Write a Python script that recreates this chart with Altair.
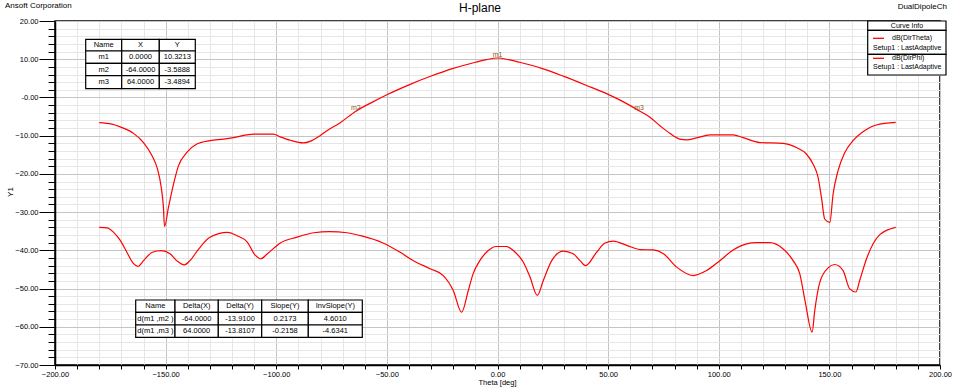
import altair as alt
import pandas as pd

# ---------------- data ----------------
theta1 = [-180, -174.3, -170.5, -164.5, -160, -156.2, -153.7, -152, -151, -150.5,
          -148.7, -146.4, -144.2, -140.4, -135.9, -129.9, -123.8, -119.3, -113.3, -110.3,
          -101.3, -98.2, -93.7, -87.7, -84.7, -80.2, -77.1, -71.1, -64, -56.1,
          -50, -40, -30, -20, -10, -5, 0, 5, 10, 20,
          30, 40, 50, 56.1, 64, 68.9, 73.4, 77.9, 82.4, 85.5,
          90, 96, 106.5, 111, 118.6, 129.1, 135.1, 139.6, 142.6, 144.9,
          146.4, 147.9, 150.2, 151.7, 153.9, 157, 160.7, 165.2, 171.2, 180]
dir_theta = [-6.6, -7.0, -7.7, -9.4, -11.8, -15.2, -18.7, -23.5, -28.7, -33.8,
             -28.7, -22.6, -17.9, -14.4, -12.2, -11.3, -10.9, -10.5, -9.8, -9.6,
             -9.6, -10.3, -11.2, -11.9, -11.5, -10.0, -8.7, -6.6, -3.59, -1.1,
             0.7, 3.3, 5.6, 7.6, 9.2, 9.9, 10.32, 9.9, 9.2, 7.6,
             5.5, 3.2, 0.8, -0.9, -3.49, -5.2, -7.4, -9.4, -10.9, -11.1,
             -10.6, -9.8, -9.8, -10.5, -11.8, -12.0, -13.1, -14.8, -17.4, -20.9,
             -26.1, -31.8, -32.7, -25.2, -19.2, -14.4, -11.3, -9.0, -7.2, -6.5]

theta2 = [-180, -176.5, -173.5, -170.5, -167.5, -164.5, -162.5, -160, -156, -152,
          -148, -145, -141.5, -139, -135, -130, -122, -118, -113, -110,
          -107, -104, -98, -91, -83, -76, -68, -61, -52, -44,
          -38, -30.5, -24.5, -20, -16.2, -13.2, -11, -8, -5, -0.5,
          4, 8, 11.7, 14.7, 18, 20.7, 24.5, 29.7, 34.2, 37.3,
          39.8, 44.8, 48.6, 52.3, 58.4, 64.4, 70.4, 75, 81, 88.4,
          94.5, 100.5, 106.5, 112.6, 117, 123, 129, 133.6, 136.6, 139,
          142.2, 143.4, 145.7, 149.4, 152.4, 156.2, 159.2, 162, 163.7, 166.8,
          172.8, 180]
dir_phi = [-34.0, -34.1, -35.3, -37.4, -40.5, -43.5, -44.2, -42.7, -40.5, -40.1,
           -40.9, -42.7, -43.8, -42.7, -39.6, -36.6, -35.3, -36.1, -37.9, -40.9,
           -42.2, -40.9, -38.0, -36.6, -35.4, -35.1, -35.4, -36.3, -38.0, -40.5,
           -42.7, -44.8, -46.6, -50.5, -56.2, -50.5, -46.1, -42.7, -40.5, -39.0,
           -39.0, -40.5, -43.1, -47.0, -51.8, -47.9, -42.7, -40.2, -40.9, -42.7,
           -44.0, -40.5, -38.1, -37.6, -38.7, -39.8, -39.9, -40.9, -44.4, -46.6,
           -45.3, -42.7, -39.9, -38.3, -38.0, -38.0, -39.6, -42.7, -46.1, -53.2,
           -61.4, -55.7, -48.3, -44.6, -43.7, -45.3, -50.1, -50.9, -47.9, -42.2,
           -35.9, -34.0]
assert len(theta1) == len(dir_theta) and len(theta2) == len(dir_phi)

curve_names = ["dB(DirTheta)", "dB(DirPhi)"]
setup_label = "Setup1 : LastAdaptive"

marker_names = ["m1", "m2", "m3"]
marker_x = [0.0, -64.0, 64.0]
marker_y = [10.3213, -3.5888, -3.4894]

marker_headers = ["Name", "X", "Y"]
marker_x_text = ["0.0000", "-64.0000", "64.0000"]
marker_y_text = ["10.3213", "-3.5888", "-3.4894"]

delta_headers = ["Name", "Delta(X)", "Delta(Y)", "Slope(Y)", "InvSlope(Y)"]
delta_names = ["d(m1 ,m2 )", "d(m1 ,m3 )"]
delta_x = ["-64.0000", "64.0000"]
delta_y = ["-13.9100", "-13.8107"]
delta_slope = ["0.2173", "-0.2158"]
delta_inv = ["4.6010", "-4.6341"]

x_ticks = list(range(-200, 201, 10))
y_ticks = list(range(-70, 21, 2))

# ---------------- layout ----------------
PL, PT = 55, 21
W, H = 885, 344
FONT = "Liberation Sans"

curves = pd.concat([
    pd.DataFrame({"theta": theta1, "val": dir_theta, "curve": curve_names[0]}),
    pd.DataFrame({"theta": theta2, "val": dir_phi, "curve": curve_names[1]}),
])

xscale = alt.Scale(domain=[-200, 200], nice=False, zero=False)
yscale = alt.Scale(domain=[-70, 20], nice=False, zero=False)

xaxis = alt.Axis(
    values=x_ticks, tickCount=len(x_ticks), grid=True,
    gridColor={"condition": {"test": "datum.value % 50 === 0", "value": "#c4c4c4"}, "value": "#e6e6e6"},
    gridWidth=1, tickColor="black", tickSize=4, tickWidth=1,
    domainColor="black", domainWidth=1.5,
    labelExpr="datum.value % 50 === 0 ? format(datum.value, '.2f') : ''",
    labelFont=FONT, labelFontSize=7.5, labelColor="black", labelPadding=1,
    labelFlush=False, labelOverlap=False, title=None)

yaxis = alt.Axis(
    values=y_ticks, tickCount=len(y_ticks), grid=True,
    gridColor={"condition": {"test": "datum.value % 10 === 0", "value": "#c4c4c4"}, "value": "#e6e6e6"},
    gridWidth=1, tickColor="black",
    tickSize={"condition": {"test": "datum.value % 10 === 0", "value": 16}, "value": 7},
    tickWidth=1, domainColor="black", domainWidth=1.5,
    labelExpr="datum.value % 10 === 0 ? (datum.value === 0 ? '-0.00' : format(datum.value, '.2f')) : ''",
    labelFont=FONT, labelFontSize=7.5, labelColor="black", labelPadding=1,
    labelFlush=False, labelOverlap=False, title=None)

lines = alt.Chart(curves).mark_line(
    color="#ff0000", strokeWidth=1.2, clip=True, interpolate="monotone").encode(
    x=alt.X("theta:Q", scale=xscale, axis=xaxis),
    y=alt.Y("val:Q", scale=yscale, axis=yaxis),
    detail="curve:N",
    order="theta:Q",
)

mk = pd.DataFrame({"name": marker_names, "x": marker_x, "y": marker_y})
marker_labels = alt.Chart(mk).mark_text(
    font=FONT, fontSize=7, color="#8a5a1e", dy=-3, baseline="middle").encode(
    x=alt.X("x:Q", scale=xscale), y=alt.Y("y:Q", scale=yscale), text="name:N")


def table(rows, col_edges, row_edges, fs=7.5):
    recs = []
    for r, row in enumerate(rows):
        for c, txt in enumerate(row):
            x0, x1 = col_edges[c] - PL, col_edges[c + 1] - PL
            y0, y1 = row_edges[r] - PT, row_edges[r + 1] - PT
            recs.append({"x0": x0, "x1": x1, "y0": y0, "y1": y1,
                         "xc": (x0 + x1) / 2, "yc": (y0 + y1) / 2, "t": txt})
    d = pd.DataFrame(recs)
    box = alt.Chart(d).mark_rect(fill="white", stroke="black", strokeWidth=1.2).encode(
        x=alt.X("x0:Q", scale=None, axis=None), x2="x1:Q",
        y=alt.Y("y0:Q", scale=None, axis=None), y2="y1:Q")
    txt = alt.Chart(d).mark_text(font=FONT, fontSize=fs, color="black", baseline="middle").encode(
        x=alt.X("xc:Q", scale=None, axis=None),
        y=alt.Y("yc:Q", scale=None, axis=None), text="t:N")
    return [box, txt]


t1_rows = [marker_headers] + [[n, a, b] for n, a, b in zip(marker_names, marker_x_text, marker_y_text)]
t1 = table(t1_rows, [85.7, 121.7, 159.3, 195.3], [39.3, 51, 63.3, 75.7, 88.7])

t2_rows = [delta_headers] + [list(r) for r in zip(delta_names, delta_x, delta_y, delta_slope, delta_inv)]
t2 = table(t2_rows, [135.7, 175, 218.3, 261.7, 308.3, 362.3], [300, 312.3, 325, 337.3])

# legend box ("Curve Info")
leg_cells = pd.DataFrame({
    "x0": [867.7 - PL] * 3, "x1": [946 - PL] * 3,
    "y0": [21 - PT, 30.3 - PT, 54.3 - PT], "y1": [30.3 - PT, 54.3 - PT, 75 - PT]})
leg_box = alt.Chart(leg_cells).mark_rect(fill="white", stroke="black", strokeWidth=1.2).encode(
    x=alt.X("x0:Q", scale=None, axis=None), x2="x1:Q",
    y=alt.Y("y0:Q", scale=None, axis=None), y2="y1:Q")
leg_lines = alt.Chart(pd.DataFrame({
    "x0": [873 - PL] * 2, "x1": [884 - PL] * 2, "y": [38.3 - PT, 58.3 - PT]})).mark_rule(
    color="#ff0000", strokeWidth=1.3).encode(
    x=alt.X("x0:Q", scale=None, axis=None), x2="x1:Q", y=alt.Y("y:Q", scale=None, axis=None))
leg_title = alt.Chart(pd.DataFrame({"t": ["Curve Info"]})).mark_text(
    font=FONT, fontSize=7, color="black", baseline="middle", align="center").encode(
    x=alt.value(907 - PL), y=alt.value(26 - PT), text="t:N")
leg_text = alt.Chart(pd.DataFrame({
    "t": [curve_names[0], setup_label, curve_names[1], setup_label],
    "x": [892 - PL, 873 - PL, 892 - PL, 873 - PL],
    "y": [38.3 - PT, 48.3 - PT, 58.3 - PT, 67 - PT]})).mark_text(
    font=FONT, fontSize=7, color="black", baseline="middle", align="left").encode(
    x=alt.X("x:Q", scale=None, axis=None), y=alt.Y("y:Q", scale=None, axis=None), text="t:N")


def label(text, x, y, size=8, align="center", angle=0):
    kw = dict(font=FONT, fontSize=size, color="black", baseline="middle", align=align)
    if angle:
        kw["angle"] = angle
    return alt.Chart(pd.DataFrame({"t": [text]})).mark_text(**kw).encode(
        x=alt.value(x - PL), y=alt.value(y - PT), text="t:N")


texts = [
    label("H-plane", 480, 8, size=12),
    label("Ansoft Corporation", 5, 6, size=8, align="left"),
    label("DualDipoleCh", 947, 7, size=8, align="right"),
    label("Y1", 11, 192, size=8, angle=270),
    label("Theta [deg]", 497.5, 383, size=7.5),
]

chart = alt.layer(lines, marker_labels, *t1, *t2, leg_box, leg_lines, leg_title, leg_text, *texts).properties(
    width=W, height=H,
    autosize=alt.AutoSizeParams(type="none"),
    padding={"left": PL, "top": PT, "right": 960 - PL - W, "bottom": 388 - PT - H},
    background="white",
).configure_view(stroke="black", strokeWidth=1.5)

chart.save("out.html", embed_options={"renderer": "svg", "actions": False})
